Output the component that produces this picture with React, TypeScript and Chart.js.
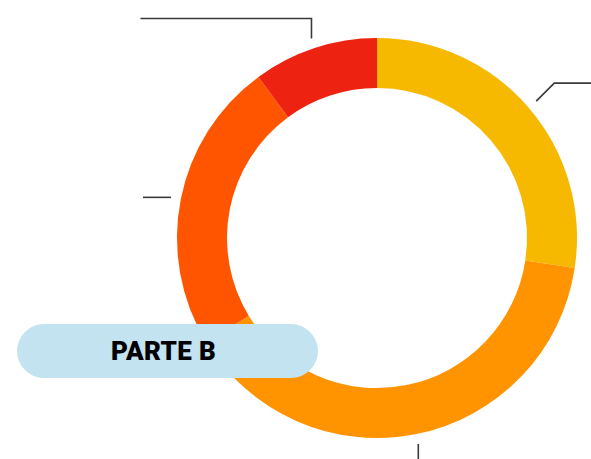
import React, { useEffect, useRef } from "react";
import { Chart, registerables } from "chart.js";

Chart.register(...registerables);

const categories = ["Segmento A", "Segmento B", "Segmento C", "Segmento D"];
const values = [27.4, 38.9, 23.6, 10.1];
const colors = ["#F7B900", "#FF9400", "#FF5500", "#EE2211"];
// leader style per segment: [first leg dx, first leg dy], then horizontal tail
const leaderFirstLeg = [
  [18, -18],
  [0, 30],
  [0, 0],
  [0, -20],
];
const leaderTail = [60, 0, -28, -171];
const badgeLabel = "PARTE B";

const leaderPlugin = {
  id: "leaders",
  afterDatasetsDraw(chart: any) {
    const meta = chart.getDatasetMeta(0);
    const ctx = chart.ctx;
    ctx.save();
    ctx.strokeStyle = "#3a3a3a";
    ctx.lineWidth = 1.6;
    meta.data.forEach((arc: any, i: number) => {
      const p = arc.getProps(["x", "y", "startAngle", "endAngle", "outerRadius"], true);
      const mid = (p.startAngle + p.endAngle) / 2;
      const r = p.outerRadius + 10;
      const sx = p.x + Math.cos(mid) * r;
      const sy = p.y + Math.sin(mid) * r;
      const [dx, dy] = leaderFirstLeg[i];
      const mx = sx + dx;
      const my = sy + dy;
      ctx.beginPath();
      ctx.moveTo(sx, sy);
      ctx.lineTo(mx, my);
      ctx.lineTo(mx + leaderTail[i], my);
      ctx.stroke();
    });
    ctx.restore();
  },
};

export default function App() {
  const ref = useRef<HTMLCanvasElement | null>(null);
  useEffect(() => {
    if (!ref.current) return;
    const chart = new Chart(ref.current, {
      type: "doughnut",
      data: {
        labels: categories,
        datasets: [
          {
            data: values,
            backgroundColor: colors,
            borderWidth: 0,
          },
        ],
      },
      options: {
        responsive: false,
        animation: false,
        cutout: "75%",
        layout: { padding: { left: 177, right: 14, top: 38, bottom: 21 } },
        plugins: {
          legend: { display: false },
          tooltip: { enabled: false },
        },
      },
      plugins: [leaderPlugin],
    });
    return () => chart.destroy();
  }, []);
  return (
    <div style={{ position: "absolute", left: 0, top: 0, width: 591, height: 459, overflow: "hidden", background: "#fff" }}>
      <canvas ref={ref} width={591} height={459} style={{ position: "absolute", left: 0, top: 0 }} />
      <div
        style={{
          position: "absolute",
          left: 17,
          top: 324,
          width: 301,
          height: 54,
          boxSizing: "border-box",
          paddingRight: 8,
          borderRadius: 27,
          background: "#C2E3EF",
          display: "flex",
          alignItems: "center",
          justifyContent: "center",
          fontFamily: "Roboto, 'Noto Sans', sans-serif",
          fontWeight: 900,
          fontSize: 26,
          color: "#000",
          letterSpacing: 0.3,
        }}
      >
        {badgeLabel}
      </div>
    </div>
  );
}
